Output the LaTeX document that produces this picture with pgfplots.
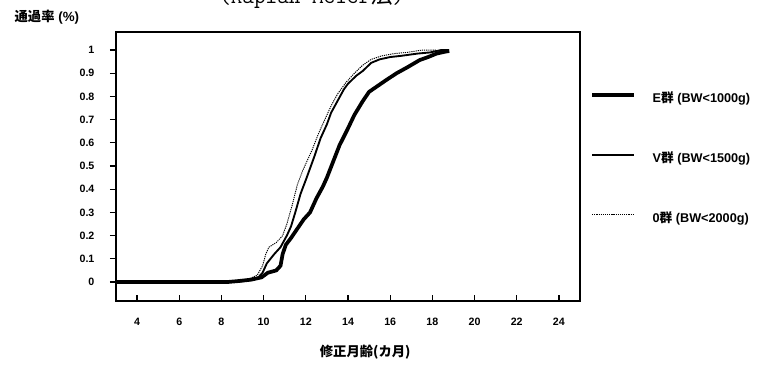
\documentclass[border=0pt]{standalone}
\usepackage{fontspec}
\setmainfont{Liberation Sans}
\newfontfamily\cjk{Noto Sans CJK JP}
\usepackage{pgfplots}
\pgfplotsset{compat=1.18}

% Kaplan-Meier estimates of the pass rate by corrected age (months)
\pgfplotstableread{
x y
3 0
8.3 0
8.8 0.004
9.4 0.01
9.9 0.02
10.2 0.04
10.6 0.05
10.8 0.07
10.9 0.12
11.05 0.16
11.3 0.19
11.6 0.23
11.9 0.27
12.2 0.30
12.5 0.36
12.8 0.41
13.0 0.45
13.3 0.52
13.6 0.59
13.96 0.655
14.3 0.72
14.7 0.78
15.0 0.82
15.4 0.845
15.8 0.87
16.3 0.90
16.8 0.925
17.4 0.957
17.8 0.97
18.2 0.985
18.6 0.993
18.8 0.996
}\groupE
\pgfplotstableread{
x y
3 0
8.6 0
9.2 0.005
9.7 0.015
9.95 0.04
10.15 0.08
10.5 0.12
10.8 0.15
11.1 0.20
11.3 0.24
11.5 0.30
11.75 0.38
12.0 0.44
12.2 0.49
12.4 0.54
12.7 0.62
13.0 0.68
13.2 0.73
13.5 0.78
13.8 0.83
14.0 0.855
14.4 0.89
14.7 0.91
15.1 0.945
15.5 0.96
16.0 0.97
16.5 0.975
17.3 0.985
17.9 0.99
18.4 1.0
18.8 1.0
}\groupV
\pgfplotstableread{
x y
3 0
8.6 0
9.2 0.008
9.7 0.03
9.95 0.07
10.1 0.12
10.25 0.15
10.6 0.17
10.9 0.20
11.1 0.25
11.35 0.33
11.6 0.42
11.85 0.48
12.1 0.53
12.3 0.57
12.6 0.64
12.9 0.70
13.2 0.76
13.5 0.81
13.9 0.86
14.3 0.90
14.7 0.935
15.1 0.96
15.6 0.975
16.2 0.985
16.8 0.99
17.5 1.0
18.2 1.0
}\groupO

\begin{document}
\begin{tikzpicture}
\begin{axis}[
  at={(0,0)}, anchor=south west,
  scale only axis, width=348pt, height=201.75pt,
  xmin=3, xmax=25, ymin=-0.082, ymax=1.078,
  xtick={4,6,...,24}, ytick={0,0.1,...,1},
  xtick pos=left, ytick pos=left,
  tick align=inside,
  major tick length=4.5pt,
  ytick style={xshift=-4.5pt},
  tick style={line width=0.9pt, black},
  axis line style={line width=1.2pt},
  /pgf/number format/assume math mode=true,
  /pgf/number format/fixed, /pgf/number format/precision=1,
  ticklabel style={font=\fontsize{8}{9}\selectfont\bfseries},
  yticklabel style={anchor=east, inner sep=0pt, xshift=-16pt},
  xticklabel style={anchor=north, inner sep=0pt, yshift=-12.5pt},
  xlabel={\cjk\bfseries 修正月齢(カ月)},
  xlabel style={at={(axis description cs:0.537,-0.19)}, anchor=center,
    font=\fontsize{10}{12}\selectfont},
  ylabel={{\cjk\bfseries 通過率} \textbf{(\%)}},
  ylabel style={at={(axis description cs:-0.149,1.056)}, anchor=center,
    rotate=-90, font=\fontsize{10}{12}\selectfont},
  title={{\ttfamily (Kaplan-Meier}{\cjk 法}{\ttfamily )}},
  title style={at={(axis description cs:0.222,1.076)}, anchor=base west,
    inner sep=0pt, font=\fontsize{16.9}{18}\selectfont},
  legend cell align=left,
  legend image code/.code={\draw[#1] (0pt,3.2pt) -- (31.5pt,3.2pt);
    \path (44pt,3.2pt);},
  legend style={draw=none, fill=none,
    at={(axis description cs:1,0.784)}, anchor=north west, xshift=4.5pt,
    row sep=36pt, font=\fontsize{9.5}{11}\selectfont\bfseries,
    nodes={inner sep=0pt, text height=7pt, text depth=2pt}},
]
\addplot[black, line width=2.8pt, line join=round] table[x=x, y=y] {\groupE};
\addlegendentry{E{\cjk 群} (BW<1000g)}
\addplot[black, line width=1.4pt, line join=round] table[x=x, y=y] {\groupV};
\addlegendentry{V{\cjk 群} (BW<1500g)}
\addplot[black, line width=0.7pt, dash pattern=on 0.9pt off 0.7pt] table[x=x, y=y] {\groupO};
\addlegendentry{0{\cjk 群} (BW<2000g)}
\end{axis}
\pgfresetboundingbox
\useasboundingbox (-87pt,-48pt) rectangle (484.5pt,225.75pt);
\end{tikzpicture}
\end{document}
